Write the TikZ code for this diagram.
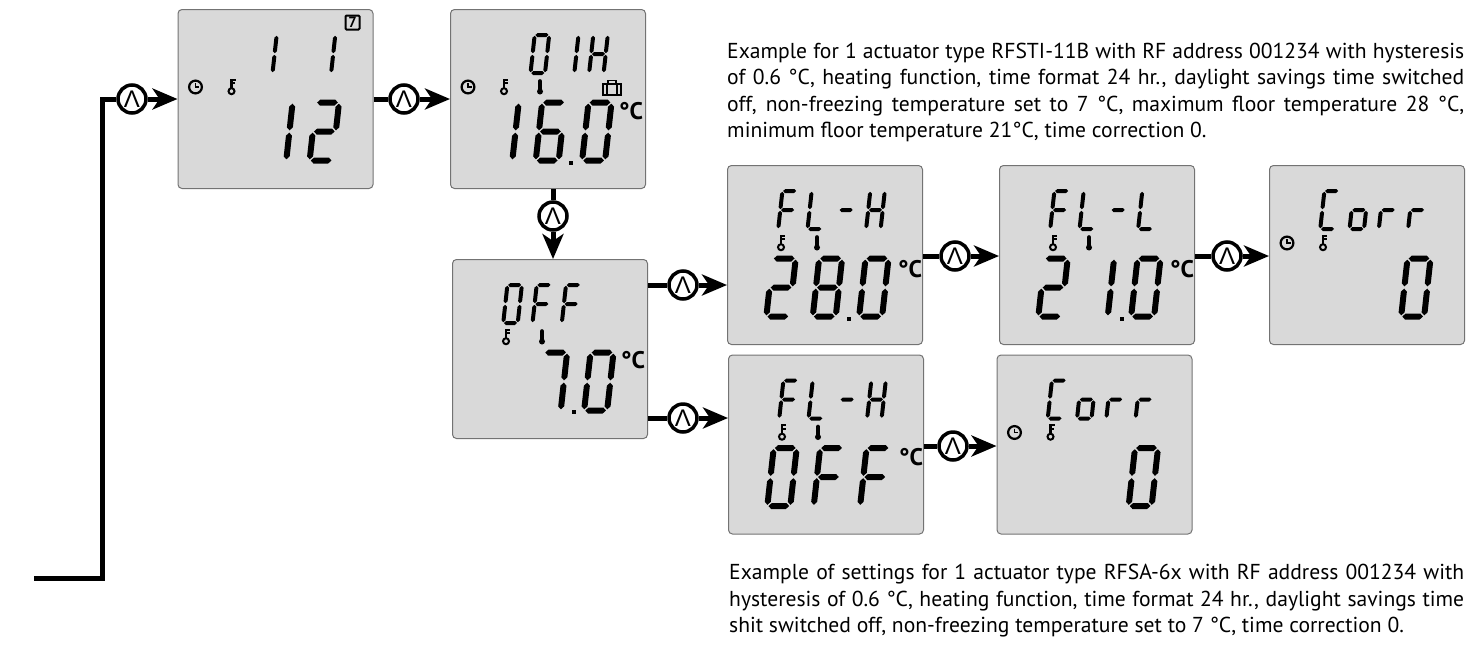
\documentclass[tikz,border=0pt]{standalone}
\usepackage{fontspec}
\setmainfont{PT Sans}
\newfontfamily\keyfont{Liberation Sans}
\usetikzlibrary{arrows.meta}
% pointed segments of one display digit, \lcdt is half their thickness
\newcommand{\lcdhor}[3]{\fill (#1,#3) -- ++(\lcdt,\lcdt) -- ([shift={(-\lcdt,\lcdt)}]#2,#3) -- (#2,#3) -- ([shift={(-\lcdt,-\lcdt)}]#2,#3) -- ([shift={(\lcdt,-\lcdt)}]#1,#3) -- cycle;}
\newcommand{\lcdver}[3]{\fill (#1,#2) -- ++(\lcdt,\lcdt) -- ([shift={(\lcdt,-\lcdt)}]#1,#3) -- (#1,#3) -- ([shift={(-\lcdt,-\lcdt)}]#1,#3) -- ([shift={(-\lcdt,\lcdt)}]#1,#2) -- cycle;}
\def\lcdsa{\lcdhor{.05}{.95}{1}}
\def\lcdsb{\lcdver{1}{.52}{.98}}
\def\lcdsc{\lcdver{1}{.02}{.48}}
\def\lcdsd{\lcdhor{.05}{.95}{0}}
\def\lcdse{\lcdver{0}{.02}{.48}}
\def\lcdsf{\lcdver{0}{.52}{.98}}
\def\lcdsg{\lcdhor{.05}{.95}{.5}}
\newcommand{\lcddef}[2]{\expandafter\def\csname lcdc#1\endcsname{#2}}
\lcddef{x}{}
\lcddef{0}{a,b,c,d,e,f}
\lcddef{1}{b,c}
\lcddef{2}{a,b,g,e,d}
\lcddef{6}{a,f,g,e,d,c}
\lcddef{7}{a,b,c}
\lcddef{8}{a,b,c,d,e,f,g}
\lcddef{F}{a,f,g,e}
\lcddef{H}{b,c,e,f,g}
\lcddef{L}{f,e,d}
\lcddef{C}{a,f,e,d}
\lcddef{o}{g,c,d,e}
\lcddef{r}{g,e}
\lcddef{-}{g}
% #1 row style, #2 node name, #3 characters of the row, #4 the same as plain text
\newcommand{\lcdrow}[4]{
\foreach \c [count=\i from 0] in {#3}{
\begin{scope}[#1]
\edef\lcdsegs{\csname lcdc\c\endcsname}
\foreach \s in \lcdsegs {\csname lcds\s\endcsname}
\end{scope}}
\node (#2) [lcdplain,#1 text] {#4};}
\tikzset{
lcdbox/.style={rectangle,draw=black!55,fill=black!15,line width=1pt,rounded corners=4pt,minimum width=195pt,minimum height=179pt,inner sep=0pt},
lcdkeybtn/.style={circle,draw=black,fill=white,line width=3.5pt,minimum size=28pt,inner sep=0pt,font=\keyfont\fontsize{24}{24}\selectfont},
flow/.style={line width=5pt},
flowarrow/.style={line width=5pt,-{Stealth[length=25pt,width=21pt,inset=7pt]}},
lcdplain/.style={text opacity=0,inner sep=0pt},
lcdtop/.style={shift={(49+29.3*\i,66)},xslant=.11,shift={(2pt,2pt)},x=14.5pt,y=38pt,/utils/exec={\def\lcdt{2pt}}},
lcdbot/.style={shift={(36+46.4*\i,154.5)},xslant=.11,shift={(3pt,3pt)},x=23pt,y=58pt,/utils/exec={\def\lcdt{3pt}}},
lcdtop text/.style={at={(105,45)},font=\fontsize{36}{36}\selectfont},
lcdbot text/.style={at={(100,122)},font=\fontsize{56}{56}\selectfont},
lcdunit/.style={font=\bfseries\fontsize{24}{24}\selectfont,inner sep=0pt},
lcdclock/.pic={\draw[line width=2.2pt](0,0) circle (6.4pt);\draw[line width=1.6pt](0,-4)--(0,0)--(3.8,0);},
lcdkey/.pic={\draw[line width=2pt](0,4.2) circle (3pt);\draw[line width=2.4pt](0,1.5)--(0,-7.3)--(4.4,-7.3);\draw[line width=2pt](0,-3.6)--(3.6,-3.6);},
lcdtherm/.pic={\draw[line width=3.6pt,line cap=round](0,-6)--(0,4.5);\fill(0,4.5) circle (3pt);},
lcdcase/.pic={\draw[line width=2pt](-9,-4.5) rectangle (9,6.5);\draw[line width=1.5pt](-5,-4.5)--(-5,6.5);\draw[line width=1.5pt](5,-4.5)--(5,6.5);\draw[line width=1.8pt](-4,-4.5)--(-4,-7.5)--(4,-7.5)--(4,-4.5);}
}
\begin{document}
\begin{tikzpicture}[x=1pt,y=-1pt]
\useasboundingbox (0,0) rectangle (1471,646);
\path (275.5,99) node(a) [lcdbox]{}
(548,99) node(b) [lcdbox]{}
(550,349) node(c) [lcdbox]{}
(825,255) node(d) [lcdbox]{}
(1097,255) node(e) [lcdbox]{}
(1367,255) node(f) [lcdbox]{}
(826,444.5) node(g) [lcdbox]{}
(1094.5,444.5) node(h) [lcdbox]{};
\path (132,99) node(k1) [lcdkeybtn]{Λ}
(404,99) node(k2) [lcdkeybtn]{Λ}
(553,216) node(k3) [lcdkeybtn]{Λ}
(683,285) node(k4) [lcdkeybtn]{Λ}
(683,418) node(k5) [lcdkeybtn]{Λ}
(955,256) node(k6) [lcdkeybtn]{Λ}
(1227,256) node(k7) [lcdkeybtn]{Λ}
(953,446) node(k8) [lcdkeybtn]{Λ};
\coordinate (s) at (34,578);
\coordinate (t) at (102,99);
% connectors
\draw[flow](s)-|(t)--(k1);
\draw[flowarrow](k1)--(k1 -| a.west);
\draw[flow](k2 -| a.east)--(k2);
\draw[flowarrow](k2)--(k2 -| b.west);
\draw[flow](k3 |- b.south)--(k3);
\draw[flowarrow](k3)--(k3 |- c.north);
\draw[flow](k4 -| c.east)--(k4);
\draw[flowarrow](k4)--(k4 -| d.west);
\draw[flow](k5 -| c.east)--(k5);
\draw[flowarrow](k5)--(k5 -| g.west);
\draw[flow](k6 -| d.east)--(k6);
\draw[flowarrow](k6)--(k6 -| e.west);
\draw[flow](k7 -| e.east)--(k7);
\draw[flowarrow](k7)--(k7 -| f.west);
\draw[flow](k8 -| g.east)--(k8);
\draw[flowarrow](k8)--(k8 -| h.west);
% panels
\begin{scope}[shift={(a.north west)},name prefix=a-]
\lcdrow{lcdtop}{top}{x,1,x,1}{1 1}
\lcdrow{lcdbot}{bot}{x,1,2}{12}
\pic at (18,78) {lcdclock}; \pic at (54,78) {lcdkey};
\node (day) at (175,13.5) [draw,line width=2pt,rounded corners=1pt,minimum size=14pt,inner sep=0pt,font=\bfseries\fontsize{15}{15}\selectfont]{7};
\end{scope}
\begin{scope}[shift={(b.north west)},name prefix=b-]
\lcdrow{lcdtop}{top}{x,0,1,H}{0 1H}
\lcdrow{lcdbot}{bot}{1,6,0}{16.0}
\fill (118.5,151.5) rectangle +(4,4);
\pic at (18,78) {lcdclock}; \pic at (54,78) {lcdkey}; \pic at (90,78) {lcdtherm}; \pic at (162,79) {lcdcase};
\node (unit) at (181,102) [lcdunit]{°C};
\end{scope}
\begin{scope}[shift={(c.north west)},name prefix=c-]
\lcdrow{lcdtop}{top}{0,F,F,x}{0FF}
\lcdrow{lcdbot}{bot}{x,7,0}{7.0}
\fill (119.5,150.5) rectangle +(4,4);
\pic at (54,78) {lcdkey}; \pic at (90,78) {lcdtherm};
\node (unit) at (181,101) [lcdunit]{°C};
\end{scope}
\begin{scope}[shift={(d.north west)},name prefix=d-]
\lcdrow{lcdtop}{top}{F,L,-,H}{FL-H}
\lcdrow{lcdbot}{bot}{2,8,0}{28.0}
\fill (119.5,151.5) rectangle +(4,4);
\pic at (54,78) {lcdkey}; \pic at (90,78) {lcdtherm};
\node (unit) at (183,104) [lcdunit]{°C};
\end{scope}
\begin{scope}[shift={(e.north west)},name prefix=e-]
\lcdrow{lcdtop}{top}{F,L,-,L}{FL-L}
\lcdrow{lcdbot}{bot}{2,1,0}{21.0}
\fill (120.5,151.5) rectangle +(4,4);
\pic at (54,78) {lcdkey}; \pic at (90,78) {lcdtherm};
\node (unit) at (183,104) [lcdunit]{°C};
\end{scope}
\begin{scope}[shift={(f.north west)},name prefix=f-]
\lcdrow{lcdtop}{top}{C,o,r,r}{Corr}
\lcdrow{lcdbot}{bot}{x,x,0}{0}
\pic at (18,78) {lcdclock}; \pic at (54,78) {lcdkey};
\end{scope}
\begin{scope}[shift={(g.north west)},name prefix=g-]
\lcdrow{lcdtop}{top}{F,L,-,H}{FL-H}
\lcdrow{lcdbot}{bot}{0,F,F}{0FF}
\pic at (54,78) {lcdkey}; \pic at (90,78) {lcdtherm};
\node (unit) at (183,103) [lcdunit]{°C};
\end{scope}
\begin{scope}[shift={(h.north west)},name prefix=h-]
\lcdrow{lcdtop}{top}{C,o,r,r}{Corr}
\lcdrow{lcdbot}{bot}{x,x,0}{0}
\pic at (18,78) {lcdclock}; \pic at (54,78) {lcdkey};
\end{scope}
% notes
\node (n1) at (727,42.5) [anchor=north west,text width=737pt,align=justify,inner sep=0pt,font=\fontsize{21.6}{26.6}\selectfont]{Example for 1 actuator type RFSTI-11B with RF address 001234 with hysteresis\linebreak
of 0.6 °C, heating function, time format 24 hr., daylight savings time switched\linebreak
off, non-freezing temperature set to 7 °C, maximum floor temperature 28 °C,\linebreak
minimum floor temperature 21°C, time correction 0.};
\node (n2) at (729,564) [anchor=north west,text width=735pt,align=justify,inner sep=0pt,font=\fontsize{21.6}{26.6}\selectfont]{Example of settings for 1 actuator type RFSA-6x with RF address 001234 with\linebreak
hysteresis of 0.6 °C, heating function, time format 24 hr., daylight savings time\linebreak
shit switched off, non-freezing temperature set to 7 °C, time correction 0.};
\end{tikzpicture}
\end{document}
